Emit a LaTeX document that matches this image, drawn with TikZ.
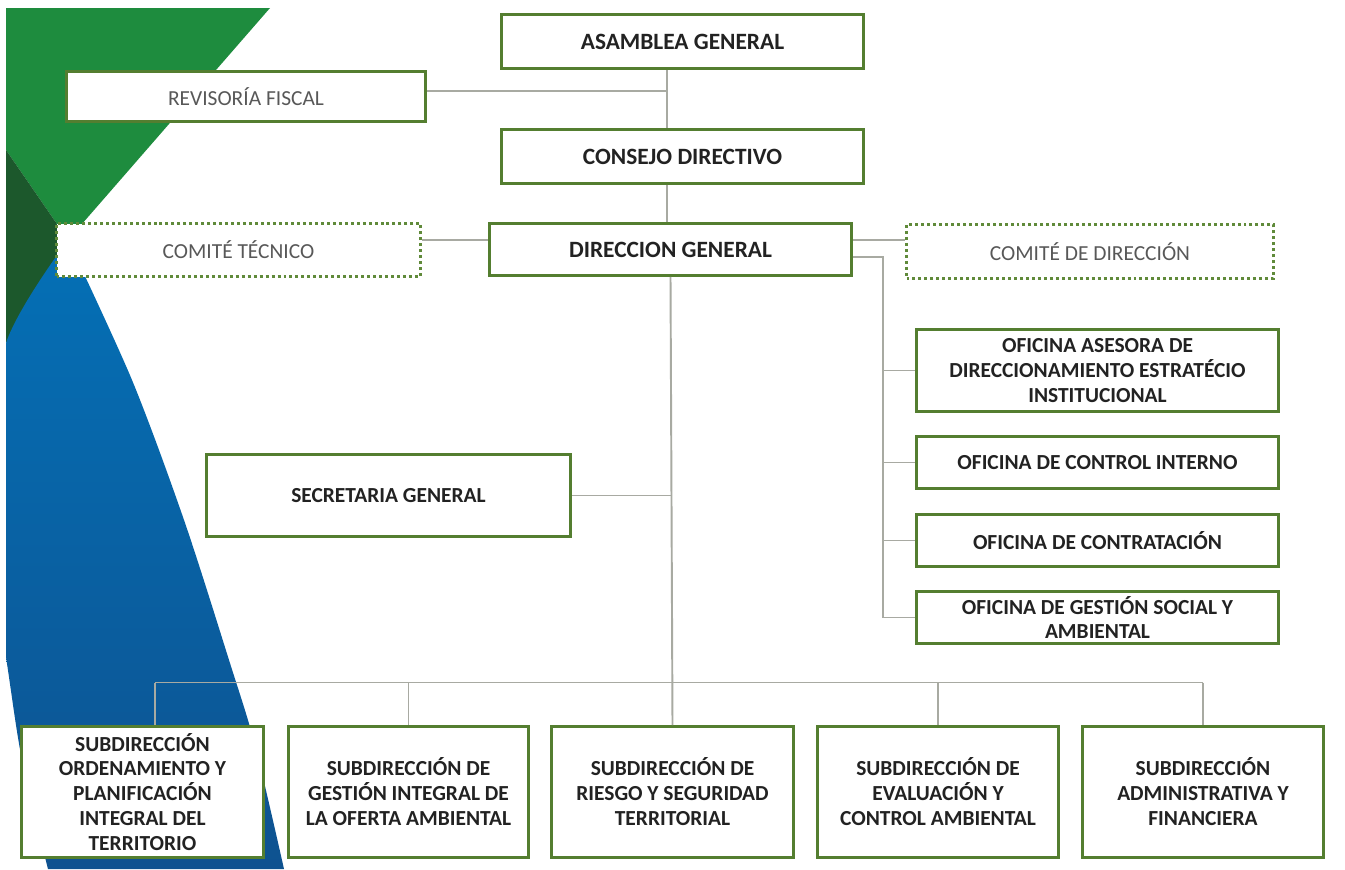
\documentclass[tikz,border=0pt]{standalone}
\usepackage{fontspec}
\setmainfont{Carlito}
\definecolor{boxgreen}{RGB}{84,126,48}
\definecolor{dotgreen}{RGB}{96,138,58}
\definecolor{linegrey}{RGB}{168,170,162}
\definecolor{txtdark}{RGB}{34,34,34}
\definecolor{txtgrey}{RGB}{88,88,88}
\definecolor{lgreen}{RGB}{30,140,62}
\definecolor{dgreen}{RGB}{28,88,44}
\definecolor{bluetop}{RGB}{4,112,182}
\definecolor{bluebot}{RGB}{14,82,144}
\def\pxu{0.02cm}
\newcommand\myTopFont{\fontsize{13.3pt}{15.6pt}\selectfont\bfseries}
\newcommand\myBodyFont{\fontsize{12.2pt}{14.2pt}\selectfont\bfseries}
\newcommand\myRegFont{\fontsize{12.2pt}{14.2pt}\selectfont}
\tikzset{
  box/.style={draw=boxgreen, line width=1.7pt, fill=white, inner sep=1pt, align=center, text=txtdark, font=\myBodyFont},
  topbox/.style={box, font=\myTopFont},
  plainbox/.style={box, text=txtgrey, font=\myRegFont},
  dotbox/.style={draw=dotgreen, line width=1.7pt, dash pattern=on 1.7pt off 1.7pt, fill=white, align=center, text=txtgrey, font=\myRegFont},
  conn/.style={draw=linegrey, line width=1.1pt},
}
\begin{document}
\begin{tikzpicture}[x={(\pxu,0)}, y={(0,-\pxu)}]
\useasboundingbox (0,0) rectangle (1345,869);
\fill[white] (0,0) rectangle (1345,869);
% background shapes
\begin{scope}
  \clip (6,8) rectangle (1345,869);
  \fill[lgreen] (6,8) -- (270,8) -- (68,240) -- (6,150) -- cycle;
  \fill[dgreen] (6,150) -- (68,240) -- (6,343) -- cycle;
  \shade[top color=bluetop, bottom color=bluebot]
    plot[smooth] coordinates {(68,240) (132,380) (184,520) (229,660) (255,745) (284,869)}
    -- (48,869)
    -- plot[smooth] coordinates {(48,869) (22,760) (6,657) (-18,500) (6,343) (68,240)}
    -- cycle;
\end{scope}
% nodes
\node[topbox, minimum width=362*\pxu, minimum height=54*\pxu] (ag) at (682.5,41.5) {ASAMBLEA GENERAL};
\node[topbox, minimum width=362*\pxu, minimum height=54*\pxu] (cd) at (682.5,156.5) {CONSEJO DIRECTIVO};
\node[topbox, minimum width=362*\pxu, minimum height=52*\pxu] (dg) at (670.5,249.5) {DIRECCION GENERAL};
\node[plainbox, minimum width=359*\pxu, minimum height=50*\pxu] (rf) at (246,96.5) {REVISORÍA FISCAL};
\node[dotbox, minimum width=364*\pxu, minimum height=53*\pxu] (ct) at (238.5,250) {COMITÉ TÉCNICO};
\node[dotbox, minimum width=367*\pxu, minimum height=54*\pxu] (cdir) at (1090,251.5) {COMITÉ DE DIRECCIÓN};
\node[box, minimum width=362*\pxu, minimum height=82*\pxu] (oa) at (1097.5,370.5) {OFICINA ASESORA DE\\DIRECCIONAMIENTO ESTRATÉCIO\\INSTITUCIONAL};
\node[box, minimum width=362*\pxu, minimum height=52*\pxu] (oci) at (1097.5,462.5) {OFICINA DE CONTROL INTERNO};
\node[box, minimum width=362*\pxu, minimum height=52*\pxu] (oc) at (1097.5,540.5) {OFICINA DE CONTRATACIÓN};
\node[box, minimum width=362*\pxu, minimum height=52*\pxu] (ogs) at (1097.5,617.5) {OFICINA DE GESTIÓN SOCIAL Y\\AMBIENTAL};
\node[box, minimum width=364*\pxu, minimum height=82*\pxu] (sg) at (388.5,495.5) {SECRETARIA GENERAL};
\node[box, minimum width=242*\pxu, minimum height=131*\pxu] (b1) at (142.5,792) {SUBDIRECCIÓN\\ORDENAMIENTO Y\\PLANIFICACIÓN\\INTEGRAL DEL\\TERRITORIO};
\node[box, minimum width=240*\pxu, minimum height=131*\pxu] (b2) at (408.5,792) {SUBDIRECCIÓN DE\\GESTIÓN INTEGRAL DE\\LA OFERTA AMBIENTAL};
\node[box, minimum width=242*\pxu, minimum height=131*\pxu] (b3) at (672.5,792) {SUBDIRECCIÓN DE\\RIESGO Y SEGURIDAD\\TERRITORIAL};
\node[box, minimum width=241*\pxu, minimum height=131*\pxu] (b4) at (938,792) {SUBDIRECCIÓN DE\\EVALUACIÓN Y\\CONTROL AMBIENTAL};
\node[box, minimum width=241*\pxu, minimum height=131*\pxu] (b5) at (1203,792) {SUBDIRECCIÓN\\ADMINISTRATIVA Y\\FINANCIERA};
% junction coordinates
\coordinate (sp) at (667,91);
\coordinate (dgl) at (0,240);
\coordinate (brk) at (883,257);
\coordinate (bus) at (0,682.5);
\coordinate (d1) at (155,682.5);
% connectors
\draw[conn] (ag.south -| sp) -- (cd.north -| sp);
\draw[conn] (cd.south -| sp) -- (dg.north -| sp);
\draw[conn] (rf.east |- sp) -- (sp);
\draw[conn] (ct.east |- dgl) -- (dg.west |- dgl);
\draw[conn] (dg.east |- dgl) -- (cdir.west |- dgl);
\draw[conn] (dg.east |- brk) -- (brk) -- (brk |- ogs.west) -- (ogs.west);
\draw[conn] (brk |- oa.west) -- (oa.west);
\draw[conn] (brk |- oci.west) -- (oci.west);
\draw[conn] (brk |- oc.west) -- (oc.west);
\draw[conn] (sg.east) -- (sg.east -| dg.south);
\draw[conn] (dg.south) -- (b3.north);
\draw[conn] (d1) -- (b5.north |- bus);
\draw[conn] (d1) -- (d1 |- b1.north);
\draw[conn] (b2.north |- bus) -- (b2.north);
\draw[conn] (b4.north |- bus) -- (b4.north);
\draw[conn] (b5.north |- bus) -- (b5.north);
\end{tikzpicture}
\end{document}
